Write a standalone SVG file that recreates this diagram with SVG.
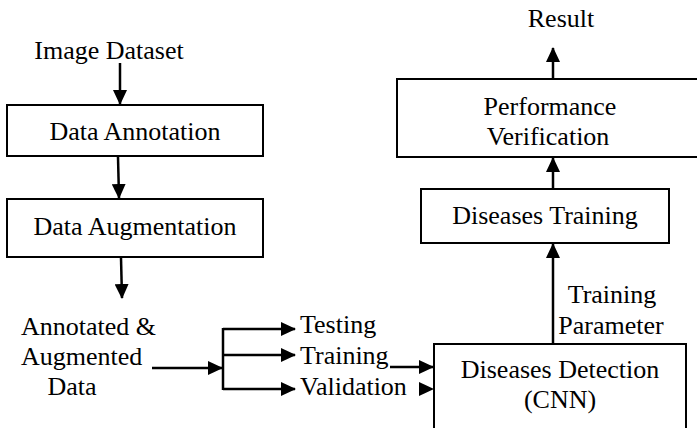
<svg xmlns="http://www.w3.org/2000/svg" width="697" height="428" viewBox="0 0 697 428">
  <style>
    .box { fill: #ffffff; stroke: #000000; stroke-width: 2; }
    .t { font-family: 'Liberation Serif', 'Times New Roman', 'DejaVu Serif', serif; font-size: 26px; fill: #000000; }
    .c { text-anchor: middle; }
    .ln { stroke: #000000; stroke-width: 2.5; fill: none; marker-end: url(#ah); }
    .plain { stroke: #000000; stroke-width: 2.5; fill: none; }
  </style>
  <defs>
    <marker id="ah" viewBox="0 0 15 14" refX="14" refY="7" markerWidth="15" markerHeight="14" markerUnits="userSpaceOnUse" orient="auto">
      <path d="M0,0 L15,7 L0,14 z" fill="#000000"/>
    </marker>
  </defs>
  <rect width="697" height="428" fill="#ffffff"/>

  <g id="image-dataset">
    <text class="t c" x="109" y="59">Image Dataset</text>
  </g>
  <g id="data-annotation">
    <rect class="box" x="7" y="105" width="256" height="51"/>
    <text class="t c" x="135" y="140">Data Annotation</text>
  </g>
  <g id="data-augmentation">
    <rect class="box" x="7" y="199" width="256" height="58"/>
    <text class="t c" x="135" y="235">Data Augmentation</text>
  </g>
  <g id="annotated-data">
    <text class="t" x="21" y="335">Annotated &amp;</text>
    <text class="t" x="21" y="365">Augmented</text>
    <text class="t c" x="72" y="395">Data</text>
  </g>
  <g id="splits">
    <text class="t" x="300" y="333">Testing</text>
    <text class="t" x="300" y="364">Training</text>
    <text class="t" x="300" y="395">Validation</text>
  </g>
  <g id="diseases-detection">
    <rect class="box" x="434" y="344" width="252" height="100"/>
    <text class="t c" x="560" y="378">Diseases Detection</text>
    <text class="t c" x="560" y="408">(CNN)</text>
  </g>
  <g id="training-parameter">
    <text class="t c" x="612" y="303">Training</text>
    <text class="t c" x="611" y="334">Parameter</text>
  </g>
  <g id="diseases-training">
    <rect class="box" x="421" y="189" width="248" height="54"/>
    <text class="t c" x="545" y="224">Diseases Training</text>
  </g>
  <g id="performance-verification">
    <rect class="box" x="397" y="79" width="304" height="78"/>
    <text class="t c" x="550" y="115">Performance</text>
    <text class="t c" x="548" y="145">Verification</text>
  </g>
  <g id="result">
    <text class="t c" x="561" y="27">Result</text>
  </g>

  <g id="connectors">
    <line class="ln" x1="120" y1="63" x2="120" y2="104"/>
    <line class="ln" x1="118" y1="157" x2="119" y2="198"/>
    <line class="ln" x1="121" y1="258" x2="122" y2="298"/>
    <line class="ln" x1="152" y1="368" x2="222" y2="368"/>
    <line class="plain" x1="223" y1="328" x2="223" y2="390"/>
    <line class="ln" x1="223" y1="329" x2="295" y2="329"/>
    <line class="ln" x1="223" y1="355" x2="295" y2="355"/>
    <line class="ln" x1="223" y1="389" x2="295" y2="389"/>
    <line class="ln" x1="390" y1="367" x2="433" y2="367"/>
    <path d="M419,382 L434,389 L419,396 z" fill="#000000"/>
    <line class="ln" x1="553" y1="344" x2="553" y2="244"/>
    <line class="ln" x1="553" y1="189" x2="553" y2="158"/>
    <line class="ln" x1="553" y1="79" x2="553" y2="48"/>
  </g>
</svg>
